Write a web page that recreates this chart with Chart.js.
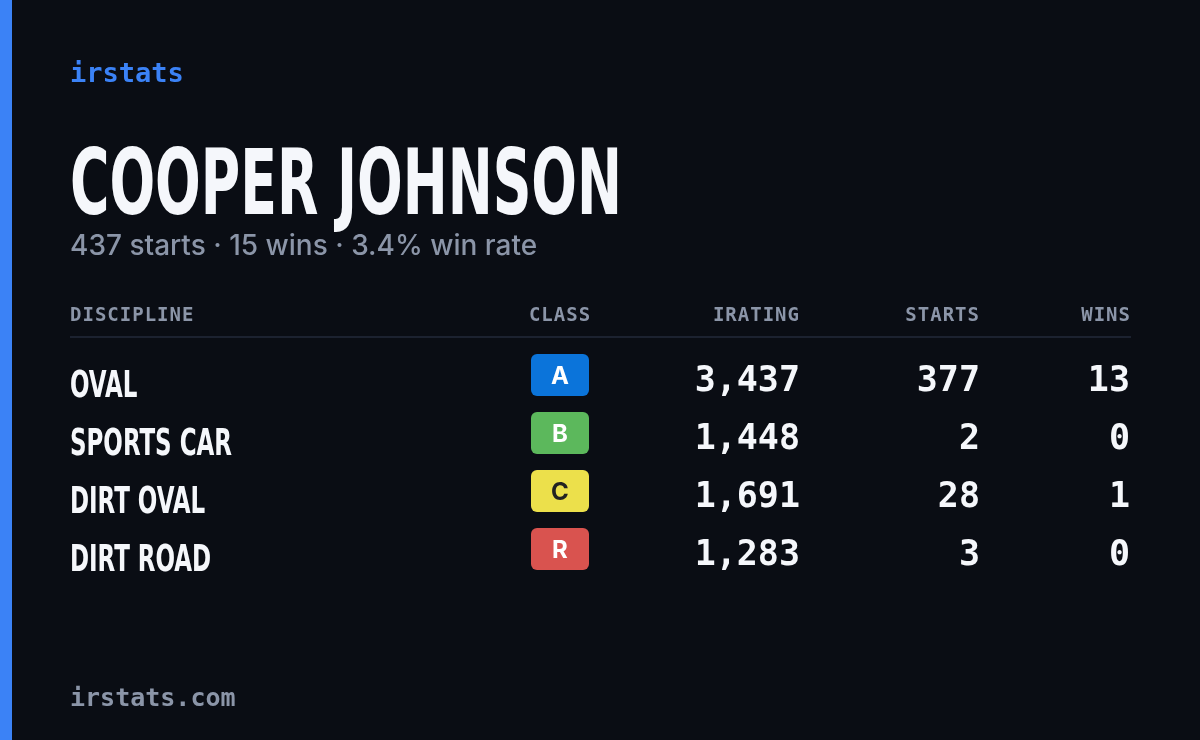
<!DOCTYPE html>
<html><head><meta charset="utf-8">
<script src="https://cdn.jsdelivr.net/npm/chart.js@4"></script>
<style>html,body{margin:0;background:#0a0d14;}#wrap{width:1200px;height:740px;}</style>
</head><body><div id="wrap"><canvas id="c"></canvas></div>
<script>
// card data
const disciplines = ["OVAL", "SPORTS CAR", "DIRT OVAL", "DIRT ROAD"];
const classes = ["A", "B", "C", "R"];
const iratings = [3437, 1448, 1691, 1283];
const starts = [377, 2, 28, 3];
const wins = [13, 0, 1, 0];
const headers = ["DISCIPLINE", "CLASS", "IRATING", "STARTS", "WINS"];
const driver = "COOPER JOHNSON";
const summary = "437 starts · 15 wins · 3.4% win rate";

const classColors = { A: "#0b74da", B: "#5cb85c", C: "#ece04b", R: "#d9534f" };
const MONO = "'DejaVu Sans Mono', monospace";
const COND = "'DejaVu Sans Condensed', 'DejaVu Sans', sans-serif";
const fmt = n => n.toLocaleString("en-US");

function condText(ctx, text, x, y, font, sx) {
  ctx.save();
  ctx.font = font;
  ctx.translate(x, y);
  ctx.scale(sx, 1);
  ctx.fillText(text, 0, 0);
  ctx.restore();
}

const cardPlugin = {
  id: "card",
  afterDraw(chart) {
    const ctx = chart.ctx;
    const y = chart.scales.y;
    ctx.save();
    ctx.fillStyle = "#3b82f6";
    ctx.fillRect(0, 0, 12, 740);

    ctx.textBaseline = "alphabetic";
    ctx.textAlign = "left";
    ctx.fillStyle = "#3b82f6";
    ctx.font = "bold 27px " + MONO;
    ctx.fillText("irstats", 70, 82);

    ctx.fillStyle = "#f5f7fb";
    ctx.font = "bold 90px " + COND;
    const tw = ctx.measureText(driver).width;
    condText(ctx, driver, 70, 214, "bold 90px " + COND, 552 / tw);

    ctx.fillStyle = "#8b95a8";
    ctx.font = "500 28px 'Inter', sans-serif";
    ctx.fillText(summary, 70, 255);

    // header
    ctx.font = "bold 19px " + MONO;
    ctx.letterSpacing = "1px";
    ctx.fillStyle = "#8b95a8";
    ctx.fillText(headers[0], 70, 321);
    ctx.textAlign = "center";
    ctx.fillText(headers[1], 560, 321);
    ctx.textAlign = "right";
    ctx.fillText(headers[2], 800, 321);
    ctx.fillText(headers[3], 980, 321);
    ctx.fillText(headers[4], 1131, 321);
    ctx.letterSpacing = "0px";

    ctx.fillStyle = "#1c2230";
    ctx.fillRect(70, 336, 1061, 2);

    disciplines.forEach((d, i) => {
      const cy = y.getPixelForValue(i);
      ctx.textAlign = "left";
      ctx.fillStyle = "#f5f7fb";
      condText(ctx, d, 70, cy + 17, "bold 37px " + COND, 0.69);

      const c = classes[i];
      ctx.fillStyle = classColors[c];
      ctx.beginPath();
      ctx.roundRect(531, cy - 26, 58, 42, 6);
      ctx.fill();
      ctx.fillStyle = c === "C" ? "#222" : "#fff";
      ctx.textAlign = "center";
      ctx.font = "bold 24px 'Inter', sans-serif";
      ctx.fillText(c, 560, cy + 4);

      ctx.fillStyle = "#f5f7fb";
      ctx.textAlign = "right";
      ctx.font = "bold 35px " + MONO;
      ctx.fillText(fmt(iratings[i]), 800, cy + 11);
      ctx.fillText(fmt(starts[i]), 980, cy + 11);
      ctx.fillText(fmt(wins[i]), 1130, cy + 11);
    });

    ctx.fillStyle = "#8b95a8";
    ctx.textAlign = "left";
    ctx.font = "bold 25px " + MONO;
    ctx.fillText("irstats.com", 70, 706);
    ctx.restore();
  }
};

new Chart(document.getElementById("c"), {
  type: "bar",
  data: { labels: disciplines, datasets: [{ data: [] }] },
  options: {
    indexAxis: "y",
    responsive: true,
    maintainAspectRatio: false,
    animation: false,
    layout: { padding: { top: 351, bottom: 157, left: 70, right: 69 } },
    plugins: { legend: { display: false }, tooltip: { enabled: false } },
    scales: {
      y: { type: "category", display: false, offset: true },
      x: { display: false, min: 0, max: 1 }
    }
  },
  plugins: [cardPlugin]
});
</script></body></html>
